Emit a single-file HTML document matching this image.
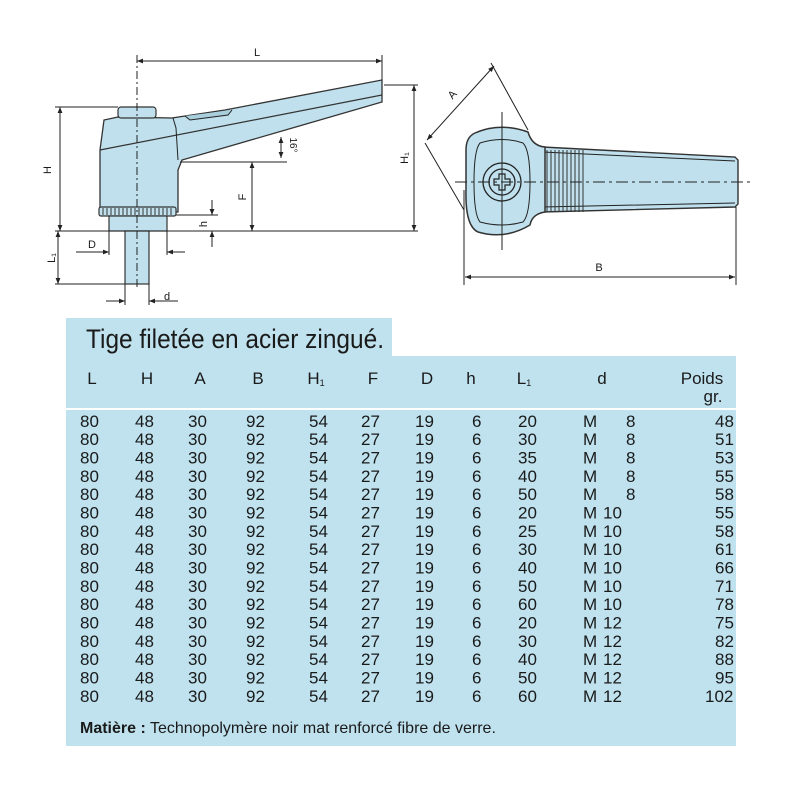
<!DOCTYPE html>
<html><head><meta charset="utf-8"><style>
html,body{margin:0;padding:0;background:#fff}
svg{display:block}
text{font-family:"Liberation Sans",Arial,sans-serif;fill:#1a1a1a}
</style></head><body>
<svg width="800" height="800" viewBox="0 0 800 800" xmlns="http://www.w3.org/2000/svg">
<defs>
<marker id="a" viewBox="0 0 10 10" refX="10" refY="5" markerWidth="8" markerHeight="6" orient="auto-start-reverse"><path d="M0,1L10,5L0,9z" fill="#222"/></marker>
</defs>
<g stroke="#222" stroke-width="1" fill="none">
<path d="M172,118 L185,116 L225,110 L382,80 L382,102 L182,160 L178,170 L178,212 L100,212 L100,150 L104,120 L118,117 Z" fill="#bfe0ec" stroke="#333" stroke-width="1.3"/>
<path d="M100,150 L382,95" stroke="#333" stroke-width="1.2"/>
<path d="M173,118 L176,128 L178,160" />
<path d="M185,116 L190,120 L228,115 L232,110" fill="#a9cfdd"/>
<rect x="118" y="107" width="38" height="11" rx="3" fill="#bfe0ec" stroke="#333" stroke-width="1.2"/>
<rect x="99" y="207" width="77" height="9" rx="2" fill="#bfe0ec" stroke="#333" stroke-width="1.2"/>
<path d="M103,208v7M107,208v7M111,208v7M115,208v7M119,208v7M123,208v7M127,208v7M131,208v7M135,208v7M139,208v7M143,208v7M147,208v7M151,208v7M155,208v7M159,208v7M163,208v7M167,208v7M171,208v7" stroke="#333"/>
<rect x="109" y="216" width="58" height="15" fill="#bfe0ec" stroke="#333" stroke-width="1.2"/>
<rect x="125" y="231" width="24" height="53" fill="#bfe0ec" stroke="#333" stroke-width="1.2"/>
<path d="M137,55 V290" stroke-dasharray="8,3,2,3"/>
<path d="M137,61 H382" marker-start="url(#a)" marker-end="url(#a)"/>
<path d="M382,55 V80"/>
<path d="M55,107 H118"/>
<path d="M60,107 V231" marker-start="url(#a)" marker-end="url(#a)"/>
<path d="M55,231 H418"/>
<path d="M384,85 H418"/>
<path d="M414,85 V231" marker-start="url(#a)" marker-end="url(#a)"/>
<path d="M180,162 H287"/>
<path d="M252,162 V231" marker-start="url(#a)" marker-end="url(#a)"/>
<path d="M281,137 V158" marker-start="url(#a)" marker-end="url(#a)"/>
<path d="M176,215 H218"/>
<path d="M212,200 V215" marker-end="url(#a)"/>
<path d="M212,247 V231" marker-end="url(#a)"/>
<path d="M58,231 V284" marker-start="url(#a)" marker-end="url(#a)"/>
<path d="M55,284 H125"/>
<path d="M109,231 V255 M167,231 V255"/>
<path d="M76,252 H109" marker-end="url(#a)"/>
<path d="M185,252 H167" marker-end="url(#a)"/>
<path d="M125,284 V305 M149,284 V305"/>
<path d="M106,301 H125" marker-end="url(#a)"/>
<path d="M178,301 H149" marker-end="url(#a)"/>
<path d="M542,147 L735,157 L738,160 L738,204 L735,207 L542,212 Z" fill="#bfe0ec" stroke="#333" stroke-width="1.4"/>
<path d="M542,152 L735,161 M542,207 L735,203"/>
<path d="M475,133 Q500,122 528,132 Q532,146 545,147 L545,212 Q532,214 530,225 Q505,240 478,232 Q465,226 466,190 L466,150 Q466,137 475,133 Z" fill="#bfe0ec" stroke="#333" stroke-width="1.5"/>
<path d="M480,143 Q502,136 523,143 Q530,150 530,182 Q530,215 523,222 Q502,228 480,222 Q474,215 474,182 Q474,150 480,143 Z"/>
<circle cx="502" cy="182" r="19" stroke-width="1.3"/>
<circle cx="502" cy="182" r="13" stroke-width="1.3"/>
<path d="M499,174h6v5h5v6h-5v5h-6v-5h-5v-6h5z" stroke-width="1.2"/>
<path d="M547,150v62M551,150v62M555,150v62M559,150v62M563,150v62M567,150v62M571,150v62M575,150v62M579,150v62M583,150v62" stroke="#333"/>
<path d="M455,182 H752" stroke-dasharray="12,4,3,4"/>
<path d="M502,112 V250"/>
<path d="M427,140 L494,66" marker-start="url(#a)" marker-end="url(#a)"/>
<path d="M425,143 L464,210 M491,63 L528,130"/>
<path d="M464,190 V285 M736,207 V285"/>
<path d="M465,277 H735" marker-start="url(#a)" marker-end="url(#a)"/>
</g>
<g font-size="11">
<text x="257" y="56" text-anchor="middle">L</text>
<text transform="translate(51,170) rotate(-90)" text-anchor="middle">H</text>
<text transform="translate(408,158) rotate(-90)" text-anchor="middle">H₁</text>
<text transform="translate(246,197) rotate(-90)" text-anchor="middle">F</text>
<text transform="translate(207,224) rotate(-90)" text-anchor="middle">h</text>
<text transform="translate(55,258) rotate(-90)" text-anchor="middle">L₁</text>
<text transform="translate(290,145) rotate(90)" text-anchor="middle" font-size="10">16°</text>
<text x="92" y="248" text-anchor="middle">D</text>
<text x="167" y="300" text-anchor="middle">d</text>
<text x="599" y="271" text-anchor="middle">B</text>
<text transform="translate(455,97) rotate(-48)" text-anchor="middle">A</text>
</g>
<rect x="66" y="318" width="326" height="40" fill="#bfe2ee"/>
<rect x="66" y="356" width="670" height="390" fill="#bfe2ee"/>
<rect x="66" y="408" width="670" height="2" fill="#fff"/>
<text x="86" y="348" font-size="27" textLength="298" lengthAdjust="spacingAndGlyphs">Tige filetée en acier zingué.</text>
<g font-size="17" text-anchor="middle">
<text x="92" y="384">L</text><text x="147" y="384">H</text><text x="200" y="384">A</text><text x="258" y="384">B</text>
<text x="316" y="384">H<tspan font-size="9" dy="2">1</tspan></text>
<text x="373" y="384">F</text><text x="427" y="384">D</text><text x="471" y="384">h</text>
<text x="524" y="384">L<tspan font-size="9" dy="2">1</tspan></text>
<text x="602" y="384">d</text>
<text x="702" y="384">Poids</text><text x="713" y="402">gr.</text>
</g>
<text x="80" y="733" font-size="16"><tspan font-weight="bold">Matière :</tspan> Technopolymère noir mat renforcé fibre de verre.</text>
<g font-size="17">
<text y="427"><tspan x="80">80</tspan><tspan x="135">48</tspan><tspan x="188">30</tspan><tspan x="246">92</tspan><tspan x="309">54</tspan><tspan x="361">27</tspan><tspan x="415">19</tspan><tspan x="472">6</tspan><tspan x="518">20</tspan><tspan x="583">M</tspan><tspan x="626">8</tspan><tspan x="715">48</tspan></text>
<text y="445"><tspan x="80">80</tspan><tspan x="135">48</tspan><tspan x="188">30</tspan><tspan x="246">92</tspan><tspan x="309">54</tspan><tspan x="361">27</tspan><tspan x="415">19</tspan><tspan x="472">6</tspan><tspan x="518">30</tspan><tspan x="583">M</tspan><tspan x="626">8</tspan><tspan x="715">51</tspan></text>
<text y="463.5"><tspan x="80">80</tspan><tspan x="135">48</tspan><tspan x="188">30</tspan><tspan x="246">92</tspan><tspan x="309">54</tspan><tspan x="361">27</tspan><tspan x="415">19</tspan><tspan x="472">6</tspan><tspan x="518">35</tspan><tspan x="583">M</tspan><tspan x="626">8</tspan><tspan x="715">53</tspan></text>
<text y="482"><tspan x="80">80</tspan><tspan x="135">48</tspan><tspan x="188">30</tspan><tspan x="246">92</tspan><tspan x="309">54</tspan><tspan x="361">27</tspan><tspan x="415">19</tspan><tspan x="472">6</tspan><tspan x="518">40</tspan><tspan x="583">M</tspan><tspan x="626">8</tspan><tspan x="715">55</tspan></text>
<text y="500"><tspan x="80">80</tspan><tspan x="135">48</tspan><tspan x="188">30</tspan><tspan x="246">92</tspan><tspan x="309">54</tspan><tspan x="361">27</tspan><tspan x="415">19</tspan><tspan x="472">6</tspan><tspan x="518">50</tspan><tspan x="583">M</tspan><tspan x="626">8</tspan><tspan x="715">58</tspan></text>
<text y="518.5"><tspan x="80">80</tspan><tspan x="135">48</tspan><tspan x="188">30</tspan><tspan x="246">92</tspan><tspan x="309">54</tspan><tspan x="361">27</tspan><tspan x="415">19</tspan><tspan x="472">6</tspan><tspan x="518">20</tspan><tspan x="583">M</tspan><tspan x="603">10</tspan><tspan x="715">55</tspan></text>
<text y="537"><tspan x="80">80</tspan><tspan x="135">48</tspan><tspan x="188">30</tspan><tspan x="246">92</tspan><tspan x="309">54</tspan><tspan x="361">27</tspan><tspan x="415">19</tspan><tspan x="472">6</tspan><tspan x="518">25</tspan><tspan x="583">M</tspan><tspan x="603">10</tspan><tspan x="715">58</tspan></text>
<text y="555"><tspan x="80">80</tspan><tspan x="135">48</tspan><tspan x="188">30</tspan><tspan x="246">92</tspan><tspan x="309">54</tspan><tspan x="361">27</tspan><tspan x="415">19</tspan><tspan x="472">6</tspan><tspan x="518">30</tspan><tspan x="583">M</tspan><tspan x="603">10</tspan><tspan x="715">61</tspan></text>
<text y="573.5"><tspan x="80">80</tspan><tspan x="135">48</tspan><tspan x="188">30</tspan><tspan x="246">92</tspan><tspan x="309">54</tspan><tspan x="361">27</tspan><tspan x="415">19</tspan><tspan x="472">6</tspan><tspan x="518">40</tspan><tspan x="583">M</tspan><tspan x="603">10</tspan><tspan x="715">66</tspan></text>
<text y="592"><tspan x="80">80</tspan><tspan x="135">48</tspan><tspan x="188">30</tspan><tspan x="246">92</tspan><tspan x="309">54</tspan><tspan x="361">27</tspan><tspan x="415">19</tspan><tspan x="472">6</tspan><tspan x="518">50</tspan><tspan x="583">M</tspan><tspan x="603">10</tspan><tspan x="715">71</tspan></text>
<text y="610"><tspan x="80">80</tspan><tspan x="135">48</tspan><tspan x="188">30</tspan><tspan x="246">92</tspan><tspan x="309">54</tspan><tspan x="361">27</tspan><tspan x="415">19</tspan><tspan x="472">6</tspan><tspan x="518">60</tspan><tspan x="583">M</tspan><tspan x="603">10</tspan><tspan x="715">78</tspan></text>
<text y="628.5"><tspan x="80">80</tspan><tspan x="135">48</tspan><tspan x="188">30</tspan><tspan x="246">92</tspan><tspan x="309">54</tspan><tspan x="361">27</tspan><tspan x="415">19</tspan><tspan x="472">6</tspan><tspan x="518">20</tspan><tspan x="583">M</tspan><tspan x="603">12</tspan><tspan x="715">75</tspan></text>
<text y="647"><tspan x="80">80</tspan><tspan x="135">48</tspan><tspan x="188">30</tspan><tspan x="246">92</tspan><tspan x="309">54</tspan><tspan x="361">27</tspan><tspan x="415">19</tspan><tspan x="472">6</tspan><tspan x="518">30</tspan><tspan x="583">M</tspan><tspan x="603">12</tspan><tspan x="715">82</tspan></text>
<text y="665"><tspan x="80">80</tspan><tspan x="135">48</tspan><tspan x="188">30</tspan><tspan x="246">92</tspan><tspan x="309">54</tspan><tspan x="361">27</tspan><tspan x="415">19</tspan><tspan x="472">6</tspan><tspan x="518">40</tspan><tspan x="583">M</tspan><tspan x="603">12</tspan><tspan x="715">88</tspan></text>
<text y="683.5"><tspan x="80">80</tspan><tspan x="135">48</tspan><tspan x="188">30</tspan><tspan x="246">92</tspan><tspan x="309">54</tspan><tspan x="361">27</tspan><tspan x="415">19</tspan><tspan x="472">6</tspan><tspan x="518">50</tspan><tspan x="583">M</tspan><tspan x="603">12</tspan><tspan x="715">95</tspan></text>
<text y="702"><tspan x="80">80</tspan><tspan x="135">48</tspan><tspan x="188">30</tspan><tspan x="246">92</tspan><tspan x="309">54</tspan><tspan x="361">27</tspan><tspan x="415">19</tspan><tspan x="472">6</tspan><tspan x="518">60</tspan><tspan x="583">M</tspan><tspan x="603">12</tspan><tspan x="705">102</tspan></text>
</g>
</svg>
</body></html>
